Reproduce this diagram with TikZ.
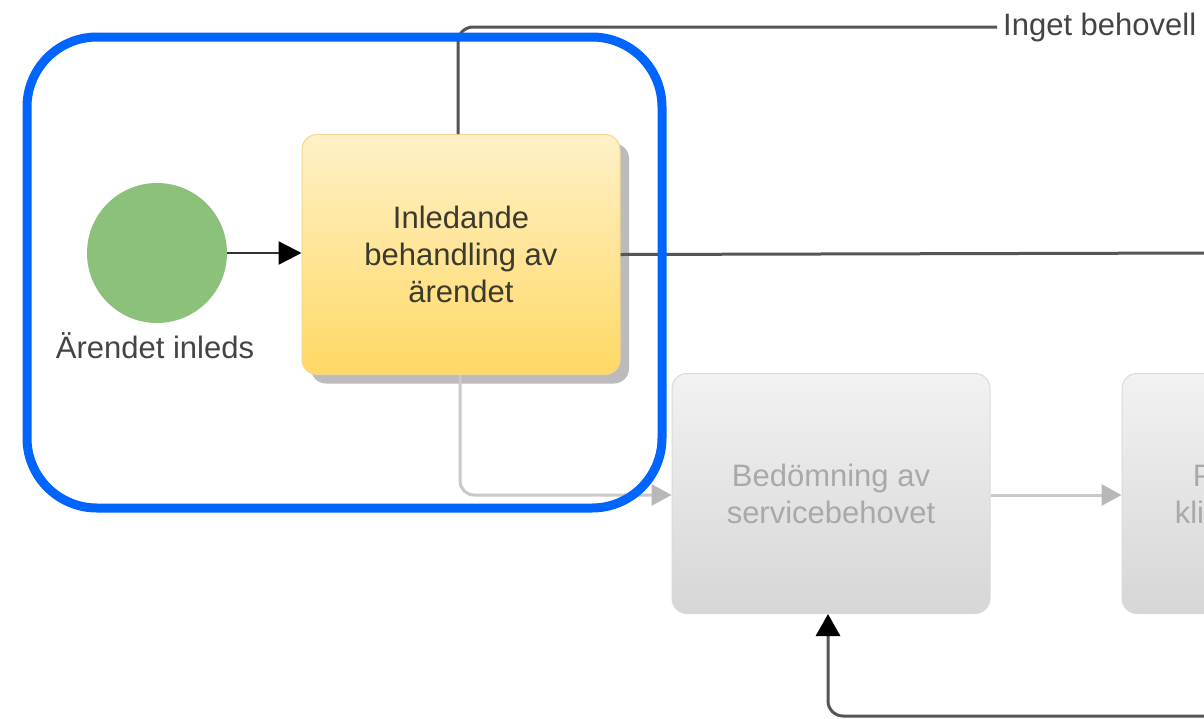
\documentclass[tikz,border=0pt]{standalone}
\usepackage{fontspec}
\setmainfont{Liberation Sans}
\usetikzlibrary{arrows.meta,shadows}

\definecolor{startgreen}{HTML}{8CC17B}
\definecolor{yellowtop}{HTML}{FFF1C8}
\definecolor{yellowbottom}{HTML}{FFD864}
\definecolor{yellowborder}{HTML}{F5D690}
\definecolor{shadowgray}{HTML}{BBBBBB}
\definecolor{activetext}{HTML}{3C3A2E}
\definecolor{graytop}{HTML}{F2F2F2}
\definecolor{graybottom}{HTML}{D6D6D6}
\definecolor{grayborder}{HTML}{DADADA}
\definecolor{inactivetext}{HTML}{A9A9A9}
\definecolor{linedark}{HTML}{555555}
\definecolor{labeltext}{HTML}{444444}
\definecolor{linelight}{HTML}{C9C9C9}
\definecolor{arrowlight}{HTML}{B8B8B8}
\definecolor{focusblue}{HTML}{0064FF}

\tikzset{
  txt/.style={font=\fontsize{31}{37}\selectfont},
  taskbox/.style={rounded corners=15pt, minimum width=318pt, minimum height=240pt,
    align=center, inner sep=0pt, txt},
  activetask/.style={taskbox, draw=yellowborder, line width=1pt,
    top color=yellowtop, bottom color=yellowbottom, text=activetext,
    general shadow={fill=shadowgray, shadow xshift=9pt, shadow yshift=-9pt}},
  inactivetask/.style={taskbox, draw=grayborder, line width=1pt,
    top color=graytop, bottom color=graybottom, text=inactivetext},
  startevent/.style={circle, fill=startgreen, minimum size=140pt, inner sep=0pt},
  flowdark/.style={draw=linedark, line width=3pt, rounded corners=15pt},
  flowlight/.style={draw=linelight, line width=3pt, rounded corners=14pt,
    -{Triangle[length=20pt,width=21pt,color=arrowlight]}},
}

\begin{document}
\begin{tikzpicture}[x=1pt,y=-1pt]
  \useasboundingbox (0,0) rectangle (1204,718);
  \clip (0,0) rectangle (1204,718);
  \fill[white] (0,0) rectangle (1204,718);

  % nodes
  \node[startevent] (start) at (157,253) {};
  \node[txt, text=labeltext, anchor=center] (startlabel) at (155,346) {Ärendet inleds};
  \node[activetask] (t1) at (461,254.5) {Inledande\\behandling av\\ärendet};
  \node[inactivetask] (t2) at (831,493.5) {Bedömning av\\servicebehovet};
  \node[inactivetask] (t3) at (1281,493.5) {\hspace*{-4pt}Planering av\\\hspace*{-4pt}klientrelationen};
  \node[txt, text=labeltext, anchor=west, inner sep=0pt] (noneed) at (1003,27) {Inget behovell};

  % free ends leaving the visible area
  \coordinate (eastout) at (1215,253);
  \coordinate (bottomout) at (1215,716);

  % connectors
  \draw[flowdark] ([xshift=-3pt]t1.north) |- ([xshift=-6pt]noneed.west);
  \draw[flowdark] (t1.east) -- (eastout);
  \draw[flowlight] ([xshift=-1pt]t1.south) |- ([yshift=-1.5pt]t2.west);
  \draw[flowlight] ([yshift=-1.5pt]t2.east) -- ([yshift=-1.5pt]t3.west);
  \draw[line width=3pt, draw=linedark, rounded corners=15pt,
        -{Triangle[length=22pt,width=24pt,color=black]}]
        (bottomout) -| ([xshift=-3pt]t2.south);
  \draw[line width=2.5pt, draw=black!80, -{Triangle[length=23pt,width=23pt,color=black]}]
        (start.east) -- (start.east -| t1.west);

  % focus frame
  \draw[draw=focusblue, line width=9pt, rounded corners=70pt] (27,37) rectangle (662,508);
\end{tikzpicture}
\end{document}
